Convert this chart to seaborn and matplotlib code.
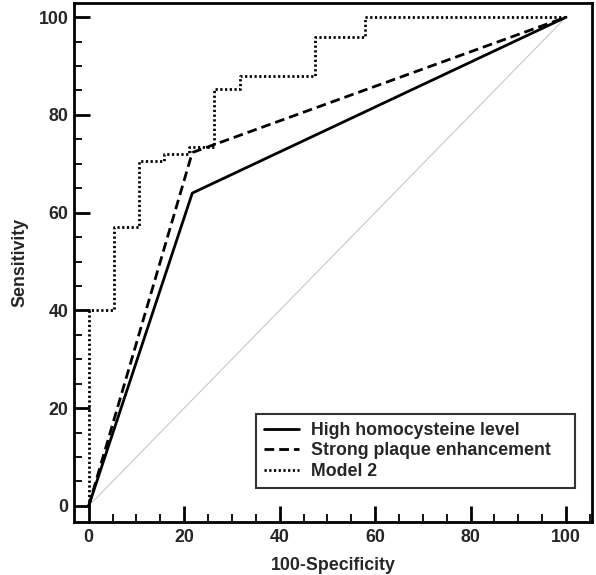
import matplotlib
matplotlib.use("Agg")
import matplotlib.pyplot as plt
import seaborn as sns
import pandas as pd
from matplotlib.ticker import MultipleLocator

# ROC coordinates (100-Specificity, Sensitivity)
homocysteine_fpr = [0, 21.7, 100]
homocysteine_tpr = [0, 64.0, 100]

plaque_fpr = [0, 21.7, 100]
plaque_tpr = [0, 72.3, 100]

model2_fpr = [0, 0, 5.3, 5.3, 10.6, 10.6, 15.8, 15.8, 21.1, 21.1, 26.3, 26.3, 31.6, 31.6, 47.4, 47.4, 57.9, 57.9, 100]
model2_tpr = [0, 40.0, 40.0, 57.1, 57.1, 70.5, 70.5, 72.0, 72.0, 73.4, 73.4, 85.2, 85.2, 88.0, 88.0, 96.0, 96.0, 100, 100]

series_names = ["High homocysteine level", "Strong plaque enhancement", "Model 2"]
diag = [0, 100]

sns.set_style("white")
plt.rcParams['font.family'] = ['Liberation Sans', 'DejaVu Sans']
plt.rcParams['font.weight'] = 'bold'

FS = 12.8

fig = plt.figure(figsize=(5.96, 5.75), dpi=100)
ax = fig.add_axes([0.124, 0.0922, 0.869, 0.9026])

sns.lineplot(x=diag, y=diag, ax=ax, color="#c8c8c8", lw=0.8, estimator=None, sort=False)
sns.lineplot(x=homocysteine_fpr, y=homocysteine_tpr, ax=ax, color="black", lw=2.0,
             linestyle="-", estimator=None, sort=False, label=series_names[0])
sns.lineplot(x=plaque_fpr, y=plaque_tpr, ax=ax, color="black", lw=2.0,
             linestyle=(0, (3.5, 1.8)), estimator=None, sort=False, label=series_names[1])
sns.lineplot(x=model2_fpr, y=model2_tpr, ax=ax, color="black", lw=2.0,
             linestyle=(0, (0.8, 0.9)), estimator=None, sort=False, label=series_names[2])

ax.set_xlim(-3.1, 105.4)
ax.set_ylim(-3.3, 102.9)
ax.xaxis.set_major_locator(MultipleLocator(20))
ax.xaxis.set_minor_locator(MultipleLocator(5))
ax.yaxis.set_major_locator(MultipleLocator(20))
ax.yaxis.set_minor_locator(MultipleLocator(5))
ax.tick_params(which="major", direction="in", length=11.5, width=2, color="black",
               labelsize=FS, pad=5, bottom=True, left=True, top=False, right=False)
ax.tick_params(axis="y", which="major", pad=4)
ax.tick_params(which="minor", direction="in", length=5.5, width=1.3, color="black",
               bottom=True, left=True, top=False, right=False)
for lab in ax.get_xticklabels() + ax.get_yticklabels():
    lab.set_fontweight("bold")
for sp in ax.spines.values():
    sp.set_visible(True)
    sp.set_color("black")
    sp.set_linewidth(2)

ax.set_xlabel("100-Specificity", fontsize=FS, fontweight="bold", labelpad=8)
ax.set_ylabel("Sensitivity", fontsize=FS, fontweight="bold", labelpad=7)

leg = ax.legend(loc="lower left", bbox_to_anchor=(0.351, 0.0655, 0.616, 0.139),
                mode="expand", borderaxespad=0, fontsize=FS,
                frameon=True, fancybox=False, handlelength=2.0, handletextpad=0.65,
                borderpad=0.45, labelspacing=0.2)
leg.get_frame().set_edgecolor("black")
leg.get_frame().set_linewidth(1.5)
for t in leg.get_texts():
    t.set_fontweight("bold")

fig.savefig("out.png", dpi=100)
